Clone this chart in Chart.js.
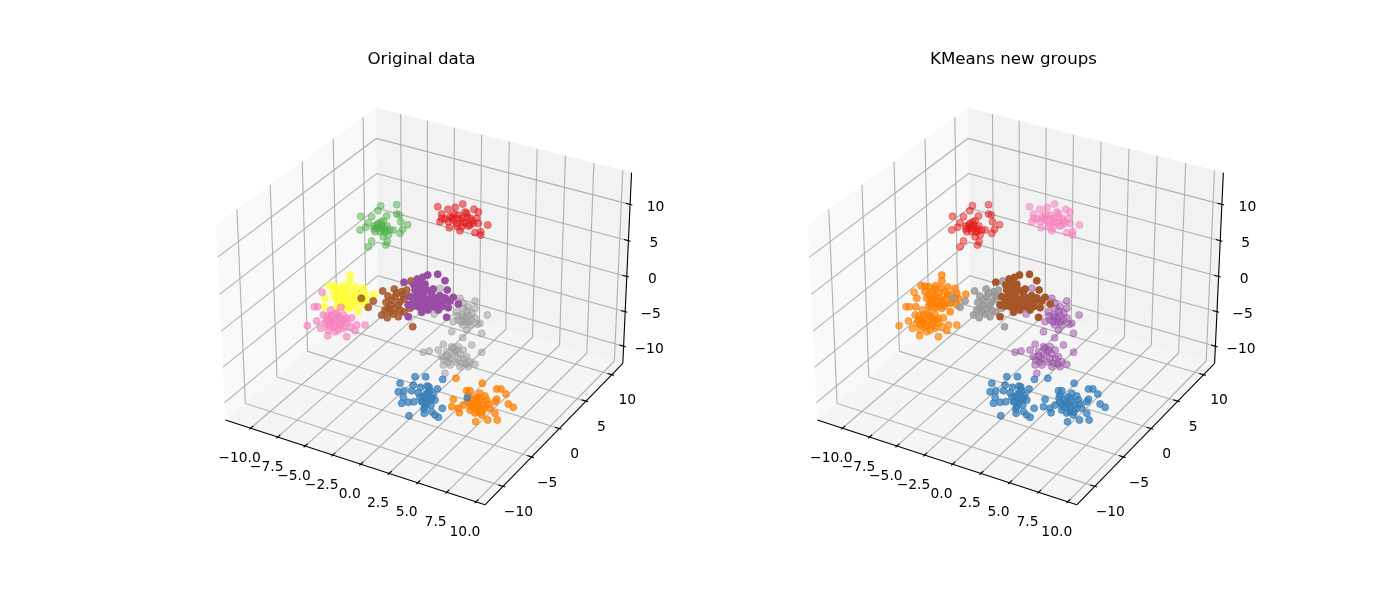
<!DOCTYPE html>
<html>
<head>
<meta charset="utf-8">
<script src="https://cdn.jsdelivr.net/npm/chart.js@4"></script>
<style>
html, body { margin: 0; padding: 0; background: #fff; overflow: hidden; width: 1400px; height: 600px; }
canvas { position: absolute; top: 0; }
#left { left: 0; }
#right { left: 592px; }
</style>
</head>
<body>
<canvas id="left" width="843" height="600"></canvas>
<canvas id="right" width="843" height="600"></canvas>
<script>
// tick labels
const xTicks = [-10, -7.5, -5, -2.5, 0, 2.5, 5, 7.5, 10];
const yTicks = [-10, -5, 0, 5, 10];
const zTicks = [-10, -5, 0, 5, 10];

// axis limits
const xLim = [-12.34, 10.76];
const yLim = [-13.05, 12.2];
const zLim = [-12.5, 14.3];

// blobs in view-plane units
const blobGreen = [[380.7,205.7],[396.7,204.7],[378,210.7],[360.7,216.3],[371.7,216.7],[396.7,214],[399.3,215],[386.7,216],[400.7,221.7],[407.7,224.7],[368.3,222.7],[360,230],[365.7,227.3],[374,226],[378.3,223.3],[381.7,225],[383.3,220.7],[376.7,228.3],[380,231.7],[385,228.3],[390,230],[393.3,230],[402.7,229.3],[400,233.3],[388.3,235],[383.3,236.7],[371.7,241],[368.3,246.7],[385.7,245],[387.3,241.7],[375,231.7],[379,227],[382,229],[377,225],[384,232],[387,226],[381,222],[374,229],[386,231]];
const blobRed = [[437.7,206.7],[462.7,204],[455.3,207.3],[448,209.3],[474,209.3],[478.3,212],[441.7,214],[441.7,218.3],[450,216.7],[458.3,215],[466.7,213.3],[453.3,220],[461.7,218.3],[470,218.3],[476.7,218.3],[440,221.7],[448.3,221.7],[456.7,223.3],[465,223.3],[473.3,223.3],[478.3,223.3],[487.7,225],[449.3,227.7],[460,230.7],[461.7,226.7],[468.3,226],[475,232.7],[480.7,231.7],[480.7,235],[470,225],[454,214],[459,219],[463,222],[467,217],[472,221],[457,226],[452,218],[465,212],[445,219]];
const blobYellow = [[350,275],[350,281],[344,285.7],[329.3,285.7],[337.3,286.7],[325,298.3],[363.3,288.3],[333.3,291.7],[340,291.7],[346.7,293.3],[353.3,291.7],[360,295],[365,293.3],[335,298.3],[341.7,298.3],[348.3,298.3],[355,298.3],[338.3,303.3],[345,303.3],[351.7,303.3],[358.3,303.3],[374,294.3],[365,305],[358.3,311.7],[350,308.3],[343.3,308.3],[324,306.7],[363.3,298.3],[337,295],[343,289],[349,288],[356,287],[344,296],[350,301],[356,295],[341,301],[347,306],[353,306],[333,286],[360,302],[337,306],[367,299]];
const blobPink = [[322.3,292.3],[314.3,306.7],[317.3,306.7],[341,307.3],[330.7,310],[323.3,315],[343.3,315],[336.7,313.3],[351.7,317.7],[316.7,321],[307.3,325.7],[326.7,320],[333.3,318.3],[340,318.3],[346.7,318.3],[328.3,325],[335,325],[341.7,323.3],[350,326.7],[356.7,325],[365,325],[320.7,328.3],[328.3,330],[335,331.7],[343.3,328.3],[355,330.7],[327.7,335.7],[346.7,336.7],[338.3,330],[331.7,315],[325,323.3],[330,320],[336,321],[340,325],[333,327],[344,320],[331,323],[338,316],[327,316],[347,323]];
const blobBrown = [[382.7,291],[394.3,289],[411,281],[361.3,298.3],[373.3,301],[368.3,307.3],[386,302.3],[395,296.7],[401.7,291.7],[406.7,290],[388.3,308.3],[400,301.7],[410,296.7],[381.7,315],[387.3,317.7],[398.3,316.7],[390,311.7],[400,310],[408.3,305],[412.7,326.7],[396.7,293.3],[410,308.3],[415,303.3],[392,300],[398,305],[404,299],[388,296],[393,314],[404,312],[395,309],[403,295],[385,310],[391,305]];
const blobPurple = [[437.7,274.3],[445,280.7],[427.7,275],[422.7,277.3],[417.3,279],[404,282.3],[420,283.3],[425,284.3],[433.3,289],[447.3,290],[410,296.7],[416.7,295],[423.3,295],[431.7,295],[440,295.7],[453.3,297.3],[450,301],[413.3,301.7],[420,301.7],[428.3,301.7],[436.7,301.7],[443.3,301.7],[458.3,304],[408.3,305],[418.3,306.7],[425,306.7],[433.3,306.7],[441.7,306.7],[448.3,307.7],[421.7,312.3],[408.3,316.7],[446.7,317.3],[438.3,310],[415,290],[421,289],[427,290],[430,299],[424,299],[435,298],[418,298],[439,304],[430,304],[413,306],[445,298],[428,310],[414,285]];
const blobGrayUpper = [[440,288.3],[460,298.3],[475,301],[463.3,303.3],[468.3,306.7],[475,308.3],[434.3,314],[463.3,308.3],[487.3,315],[453.3,321.7],[458.3,320],[463.3,316.7],[468.3,315],[471.7,320],[465,321.7],[470,325],[480,323.3],[477.3,324.3],[466.7,330],[451.7,331.7],[481.7,333.3],[461.7,315],[456.7,311.7],[467,311],[461,322],[466,318],[472,313],[463,325],[457,316],[469,322],[475,318]];
const blobGrayLower = [[462.7,337.7],[443.3,344.3],[471.7,345],[423.3,352.3],[429.3,351],[451.7,346.7],[458.3,346.7],[438.3,350],[446.7,351.7],[455,351.7],[463.3,350],[481.7,352.3],[441.7,356.7],[450,358.3],[458.3,358.3],[466.7,356.7],[443.3,365],[450,365],[461.7,363.3],[470,361.7],[475,364.3],[445,373.3],[460,366.7],[468.3,366.7],[456.7,350],[447,356],[453,348],[460,354],[452,355],[464,359],[444,360],[448,362],[456,362],[466,364]];
const blobOrange = [[456,378.3],[482.3,383.3],[496.7,389],[501,389],[506,394],[466.7,390.7],[470,390.7],[480,393.3],[453.3,399.3],[496.7,399.3],[495,401.7],[468.3,395],[478.3,398.3],[473.3,400],[486.7,400],[451.7,406.7],[458.3,408.3],[459.3,412.7],[470,405],[476.7,405],[483.3,405],[490,408.3],[508.3,404],[513.3,407.3],[470,410],[478.3,411.7],[481.7,415],[495,413.3],[475.7,421.7],[487.7,420],[497.3,420],[463.3,405],[474,403],[480,401],[478,408],[484,409],[472,407],[482,412],[476,397],[488,404],[468,402],[485,396],[475,413]];
const blobBlue = [[415,376.7],[425.7,376.7],[442.7,379.3],[400,383.3],[413.3,385],[420.7,387.3],[427.3,386],[437.3,389],[398.3,391.7],[404,390.7],[411.7,390.7],[418.3,392.7],[430,390.7],[403.3,397.3],[423.3,396.7],[431.7,398.3],[401.7,403.3],[408.3,402.3],[414,401.7],[421.7,401.7],[426.7,403.3],[435,400],[425,406.7],[442.3,408.3],[431.7,411.7],[424.3,413.3],[435,415],[438.3,417.3],[409,415.7],[467.3,397.7],[426,394],[430,400],[423,402],[428,392],[433,395],[420,397],[427,399],[431,405],[424,409],[429,387]];

// back to front
const blobs = [blobGreen, blobRed, blobYellow, blobGrayUpper, blobGrayLower, blobPink, blobBrown, blobPurple, blobOrange, blobBlue];
const blobAlpha = [0.5, 0.55, 0.75, 0.5, 0.5, 0.65, 0.85, 1, 0.75, 0.75];

const RED = '228,26,28', BLUE = '55,126,184', GREEN = '77,175,74', PURPLE = '152,78,163';
const ORANGE = '255,127,0', YELLOW = '255,255,51', BROWN = '166,86,40', PINK = '247,129,191', GRAY = '153,153,153';

const leftColors = [GREEN, RED, YELLOW, GRAY, GRAY, PINK, BROWN, PURPLE, ORANGE, BLUE];
const rightColors = [RED, PINK, ORANGE, PURPLE, PURPLE, ORANGE, GRAY, BROWN, BLUE, BLUE];

// mplot3d camera: elev 30, azim -60, dist 10
const box = [1.19048, 1.19048, 0.89286];
const uVec = [0.8660, 0.5, 0];
const vVec = [-0.25, 0.4330, 0.8660];
const wVec = [0.4330, -0.75, 0.5];

function dot(a, b) {
    return a[0] * b[0] + a[1] * b[1] + a[2] * b[2];
}

// data coords -> view plane units
function project(x, y, z) {
    const p = [
        ((x - xLim[0]) / (xLim[1] - xLim[0]) - 0.5) * box[0],
        ((y - yLim[0]) / (yLim[1] - yLim[0]) - 0.5) * box[1],
        ((z - zLim[0]) / (zLim[1] - zLim[0]) - 0.5) * box[2],
    ];
    const depth = 10 - dot(wVec, p);
    const tx = dot(uVec, p) / depth;
    const ty = dot(vVec, p) / depth;
    return [190.6 + (tx + 0.095) * 2497, 534 - (ty + 0.095) * 2497];
}

const axes3d = {
    id: 'axes3d',
    beforeDatasetsDraw(chart) {
        const ctx = chart.ctx;
        const sx = chart.scales.x, sy = chart.scales.y;
        const pt = (x, y, z) => {
            const v = project(x, y, z);
            return [sx.getPixelForValue(v[0]), sy.getPixelForValue(v[1])];
        };
        const [x0, x1] = xLim, [y0, y1] = yLim, [z0, z1] = zLim;

        function poly(points, fill) {
            ctx.beginPath();
            points.forEach((p, i) => {
                const q = pt(p[0], p[1], p[2]);
                if (i === 0) ctx.moveTo(q[0], q[1]);
                else ctx.lineTo(q[0], q[1]);
            });
            if (fill) {
                ctx.closePath();
                ctx.fillStyle = fill;
                ctx.fill();
            } else {
                ctx.stroke();
            }
        }

        ctx.save();
        // panes
        poly([[x0, y0, z0], [x0, y1, z0], [x0, y1, z1], [x0, y0, z1]], 'rgb(249,249,249)');
        poly([[x0, y1, z0], [x1, y1, z0], [x1, y1, z1], [x0, y1, z1]], 'rgb(242,242,242)');
        poly([[x0, y0, z0], [x1, y0, z0], [x1, y1, z0], [x0, y1, z0]], 'rgb(245,245,245)');

        // grid
        ctx.lineWidth = 1.1;
        ctx.strokeStyle = 'rgb(176,176,176)';
        xTicks.forEach(t => poly([[t, y0, z0], [t, y1, z0], [t, y1, z1]]));
        yTicks.forEach(t => poly([[x1, t, z0], [x0, t, z0], [x0, t, z1]]));
        zTicks.forEach(t => poly([[x1, y1, t], [x0, y1, t], [x0, y0, t]]));

        // axis lines
        ctx.strokeStyle = '#000';
        poly([[x0, y0, z0], [x1, y0, z0]]);
        poly([[x1, y0, z0], [x1, y1, z0]]);
        poly([[x1, y1, z0], [x1, y1, z1]]);

        // ticks
        const dx = (x1 - x0) / 12, dy = (y1 - y0) / 12;
        xTicks.forEach(t => poly([[t, y0 + 0.2 * dy, z0], [t, y0 - 0.1 * dy, z0]]));
        yTicks.forEach(t => poly([[x1 - 0.2 * dx, t, z0], [x1 + 0.1 * dx, t, z0]]));
        zTicks.forEach(t => poly([[x1 - 0.2 * dx, y1, t], [x1 + 0.1 * dx, y1, t]]));

        // tick labels
        ctx.fillStyle = '#000';
        ctx.font = '13.89px "DejaVu Sans"';
        ctx.textAlign = 'center';
        ctx.textBaseline = 'middle';
        const fmt = t => String(t).replace('-', '\u2212');
        xTicks.forEach(t => {
            const q = pt(t, y0, z0);
            ctx.fillText(fmt(t.toFixed(1)), q[0] - 11, q[1] + 30);
        });
        yTicks.forEach(t => {
            const q = pt(x1, t, z0);
            ctx.fillText(fmt(t), q[0] + 15.5, q[1] + 26);
        });
        zTicks.forEach(t => {
            const q = pt(x1, y1, t);
            ctx.fillText(fmt(t), q[0] + 25.5, q[1] + 3);
        });
        ctx.restore();
    }
};

function makePanel(id, title, colors, shift) {
    return new Chart(document.getElementById(id), {
        type: 'scatter',
        data: {
            datasets: blobs.map((b, i) => ({
                data: b.map(p => ({ x: p[0], y: p[1] })),
                order: blobs.length - i,
                pointRadius: 3.5,
                pointBorderWidth: 0.9,
                pointBackgroundColor: `rgba(${colors[i]},${blobAlpha[i]})`,
                pointBorderColor: `rgba(${colors[i]},${blobAlpha[i]})`,
            }))
        },
        options: {
            responsive: false,
            animation: false,
            devicePixelRatio: 1,
            layout: { padding: 0, autoPadding: false },
            scales: {
                x: { type: 'linear', display: false, min: shift, max: 843 + shift },
                y: { type: 'linear', display: false, min: 81, max: 600, reverse: true }
            },
            plugins: {
                legend: { display: false },
                tooltip: { enabled: false },
                title: {
                    display: true,
                    text: title,
                    color: '#000',
                    font: { family: 'DejaVu Sans', size: 16.67, weight: 'normal' },
                    padding: { top: 50, bottom: 11 }
                }
            }
        },
        plugins: [axes3d]
    });
}

makePanel('left', 'Original data', leftColors, 0);
makePanel('right', 'KMeans new groups', rightColors, 0.2);
</script>
</body>
</html>
